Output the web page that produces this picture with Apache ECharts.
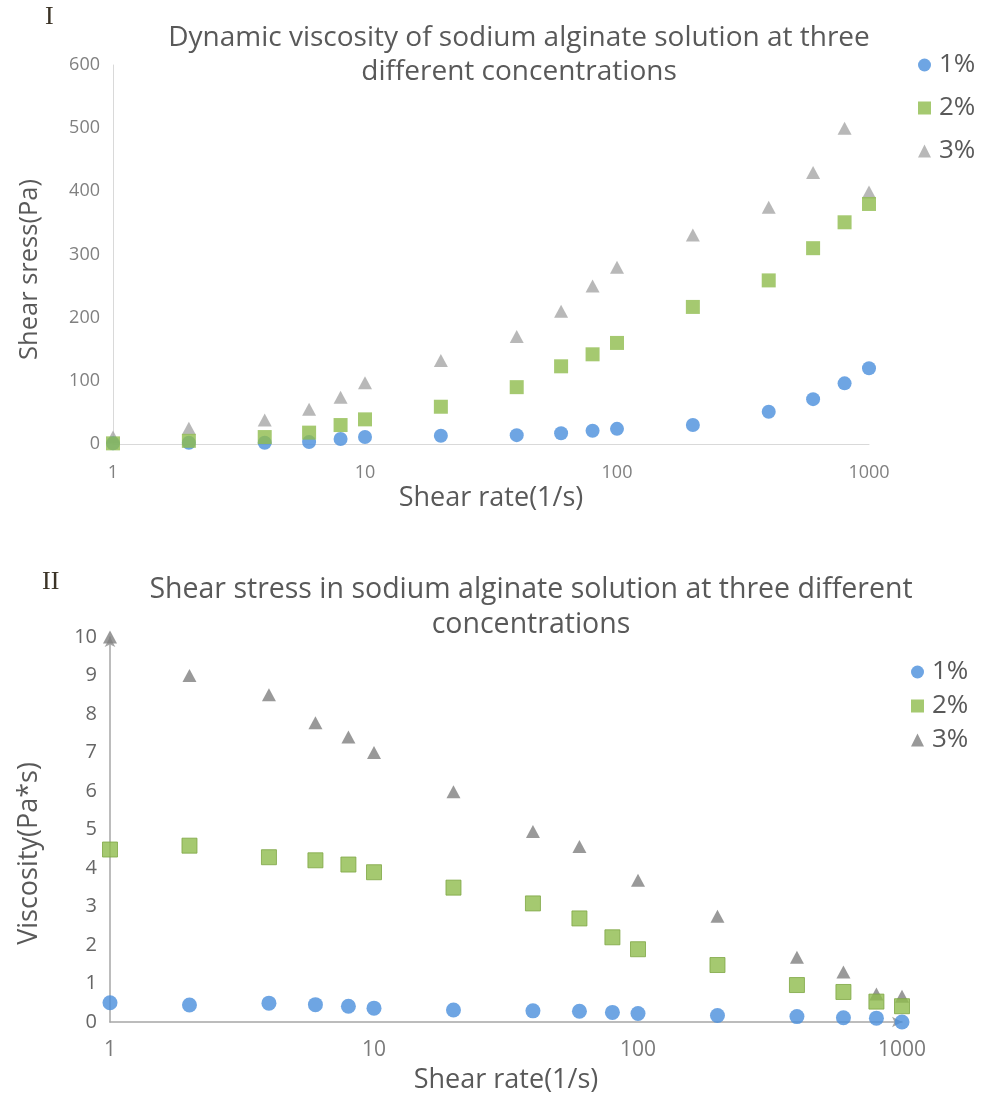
<!DOCTYPE html>
<html>
<head>
<meta charset="utf-8">
<style>html,body{margin:0;padding:0;background:#fff;}#chart{width:993px;height:1095px;}</style>
<script src="https://cdn.jsdelivr.net/npm/echarts@6/dist/echarts.min.js"></script>
</head>
<body>
<div id="chart"></div>
<script>
// ---- data ----
const shearRate = [1, 2, 4, 6, 8, 10, 20, 40, 60, 80, 100, 200, 400, 600, 800, 1000];
const seriesNames = ['1%', '2%', '3%'];
// Chart I: shear stress (Pa)
const stress1 = [1, 2, 2, 3, 8, 11, 13, 14, 17, 21, 24, 30, 51, 71, 96, 120];
const stress2 = [1, 5, 11, 18, 30, 39, 59, 90, 123, 142, 160, 217, 259, 310, 351, 380];
const stress3 = [11, 25, 38, 55, 74, 97, 132, 170, 210, 250, 280, 331, 375, 430, 500, 399];
// Chart II: viscosity (Pa*s)
const visc1 = [0.5, 0.44, 0.49, 0.45, 0.41, 0.36, 0.31, 0.29, 0.28, 0.25, 0.22, 0.17, 0.14, 0.11, 0.1, 0.0];
const visc2 = [4.48, 4.58, 4.28, 4.2, 4.09, 3.89, 3.49, 3.08, 2.69, 2.2, 1.89, 1.48, 0.96, 0.78, 0.53, 0.41];
const visc3 = [10, 9.0, 8.5, 7.77, 7.4, 7.0, 5.98, 4.95, 4.56, null, 3.68, 2.75, 1.68, 1.3, 0.73, 0.67];
const xTicks = [1, 10, 100, 1000];

const FONT = 'Open Sans';
const BLUE = '#4a8fdc', GREEN = '#8fbc4c', GRAY1 = '#a6a6a6', GRAY2 = '#7f7f7f';

function pairs(ys) { return shearRate.map((x, i) => [x, ys[i]]).filter(p => p[1] !== null); }

const chart = echarts.init(document.getElementById('chart'));

function xAxis(gridIndex, lineColor, labelColor, fs, arrow) {
  return {
    type: 'log', logBase: 10, min: 1, max: 1000, gridIndex,
    name: 'Shear rate(1/s)', nameLocation: 'middle', nameGap: gridIndex === 0 ? 41 : 45,
    nameTextStyle: { fontFamily: FONT, fontSize: 27, color: '#595959' },
    axisLine: { show: true, lineStyle: { color: lineColor, width: gridIndex === 0 ? 1 : 1.5 },
      symbol: arrow ? ['none', 'arrow'] : ['none', 'none'], symbolSize: [8, 10] },
    axisTick: { show: false }, minorTick: { show: false },
    splitLine: { show: false }, minorSplitLine: { show: false },
    axisLabel: { fontFamily: FONT, fontSize: fs, color: labelColor, margin: gridIndex === 0 ? 20 : 18,
      formatter: v => (xTicks.indexOf(Math.round(v)) >= 0 ? String(Math.round(v)) : '') }
  };
}

const option = {
  backgroundColor: '#fff',
  animation: false,
  title: [
    { text: 'Dynamic viscosity of sodium alginate solution at three\ndifferent concentrations',
      left: 514, top: 16, textAlign: 'center',
      textStyle: { fontFamily: FONT, fontSize: 28, fontWeight: 'normal', color: '#595959', lineHeight: 34 } },
    { text: 'Shear stress in sodium alginate solution at three different\nconcentrations',
      left: 526, top: 567, textAlign: 'center',
      textStyle: { fontFamily: FONT, fontSize: 28.5, fontWeight: 'normal', color: '#595959', lineHeight: 35 } }
  ],
  graphic: [
    { type: 'text', left: 45, top: 4, style: { text: 'I', font: '26px "Liberation Serif"', fill: '#3b3326' } },
    { type: 'text', left: 42, top: 569, style: { text: 'II', font: '26px "Liberation Serif"', fill: '#3b3326' } }
  ],
  legend: [
    { orient: 'vertical', left: 913, top: 47, itemWidth: 13, itemHeight: 13, itemGap: 17,
      textStyle: { fontFamily: FONT, fontSize: 26, color: '#595959', padding: [0, 0, 0, 3] },
      selectedMode: false,
      data: [
        { name: '1%', icon: 'circle', itemStyle: { color: BLUE } },
        { name: '2%', icon: 'rect', itemStyle: { color: GREEN } },
        { name: '3%', icon: 'triangle', itemStyle: { color: GRAY1 } }
      ] },
    { orient: 'vertical', left: 906, top: 654, itemWidth: 13, itemHeight: 13, itemGap: 8,
      textStyle: { fontFamily: FONT, fontSize: 26, color: '#595959', padding: [0, 0, 0, 3] },
      selectedMode: false,
      data: [
        { name: '1%', icon: 'circle', itemStyle: { color: BLUE } },
        { name: '2%', icon: 'rect', itemStyle: { color: GREEN } },
        { name: '3%', icon: 'triangle', itemStyle: { color: GRAY2 } }
      ] }
  ],
  grid: [
    { left: 113, width: 756, top: 65, height: 379 },
    { left: 110, width: 792, top: 637, height: 386 }
  ],
  xAxis: [
    xAxis(0, '#d9d9d9', '#808080', 18, false),
    xAxis(1, '#a6a6a6', '#7a7a7a', 21, true)
  ],
  yAxis: [
    { type: 'value', gridIndex: 0, min: 0, max: 600, interval: 100,
      name: 'Shear sress(Pa)', nameLocation: 'middle', nameGap: 70,
      nameTextStyle: { fontFamily: FONT, fontSize: 25.5, color: '#595959', padding: [0, 30, 0, 0] },
      axisLine: { show: true, lineStyle: { color: '#d9d9d9' } },
      axisTick: { show: false }, splitLine: { show: false },
      axisLabel: { fontFamily: FONT, fontSize: 18, color: '#808080', margin: 13 } },
    { type: 'value', gridIndex: 1, min: 0, max: 10, interval: 1,
      name: 'Viscosity(Pa*s)', nameLocation: 'middle', nameGap: 67,
      nameTextStyle: { fontFamily: FONT, fontSize: 27, color: '#595959', padding: [0, 48, 0, 0] },
      axisLine: { show: true, lineStyle: { color: '#a6a6a6', width: 1.5 }, symbol: ['none', 'arrow'], symbolSize: [8, 10] },
      axisTick: { show: false }, splitLine: { show: false },
      axisLabel: { fontFamily: FONT, fontSize: 20, color: '#666666', margin: 13 } }
  ],
  series: [
    { name: seriesNames[0], type: 'scatter', xAxisIndex: 0, yAxisIndex: 0, symbol: 'circle', symbolSize: 14,
      itemStyle: { color: BLUE }, data: pairs(stress1), z: 2 },
    { name: seriesNames[1], type: 'scatter', xAxisIndex: 0, yAxisIndex: 0, symbol: 'rect', symbolSize: 14,
      itemStyle: { color: GREEN }, data: pairs(stress2), z: 3 },
    { name: seriesNames[2], type: 'scatter', xAxisIndex: 0, yAxisIndex: 0, symbol: 'triangle', symbolSize: [14, 13],
      itemStyle: { color: GRAY1 }, data: pairs(stress3), z: 1 },
    { name: seriesNames[0], type: 'scatter', xAxisIndex: 1, yAxisIndex: 1, symbol: 'circle', symbolSize: 15,
      itemStyle: { color: BLUE }, data: pairs(visc1), z: 3 },
    { name: seriesNames[1], type: 'scatter', xAxisIndex: 1, yAxisIndex: 1, symbol: 'rect', symbolSize: 15,
      itemStyle: { color: GREEN, borderColor: '#7ea644', borderWidth: 1 }, data: pairs(visc2), z: 2 },
    { name: seriesNames[2], type: 'scatter', xAxisIndex: 1, yAxisIndex: 1, symbol: 'triangle', symbolSize: [14, 13],
      itemStyle: { color: GRAY2 }, data: pairs(visc3), z: 1 }
  ]
};
chart.setOption(option);
</script>
</body>
</html>
